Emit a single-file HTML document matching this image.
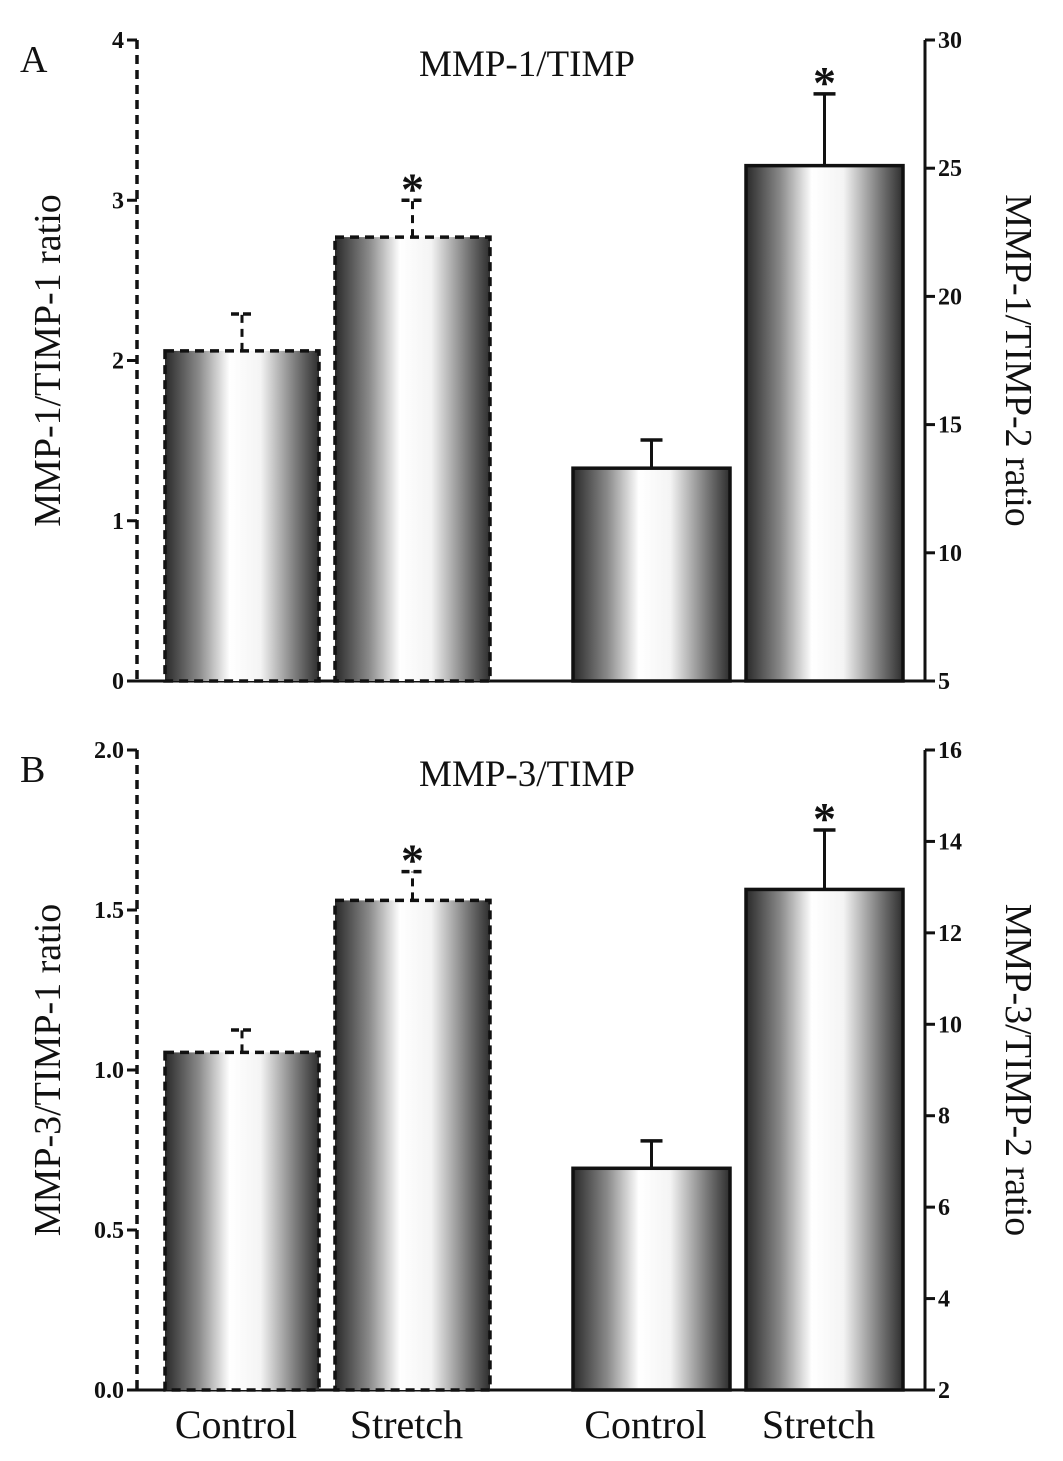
<!DOCTYPE html>
<html><head><meta charset="utf-8"><style>
html,body{margin:0;padding:0;background:#fff;width:1063px;height:1461px;overflow:hidden}
svg text{font-family:"Liberation Serif",serif;fill:#111}
</style></head><body>
<svg id="chart" width="1063" height="1461" viewBox="0 0 1063 1461" xmlns="http://www.w3.org/2000/svg">
<defs>
<linearGradient id="g" x1="0" x2="1" y1="0" y2="0">
<stop offset="0" stop-color="#2a2a2a"/><stop offset="0.22" stop-color="#8a8a8a"/><stop offset="0.42" stop-color="#ffffff"/><stop offset="0.62" stop-color="#f4f4f4"/><stop offset="0.85" stop-color="#7a7a7a"/><stop offset="1" stop-color="#2e2e2e"/>
</linearGradient>
</defs>
</svg>
<script>
const categories = ["Control","Stretch","Control","Stretch"];
const aLeftVals = [2.06, 2.77];
const aLeftErr = [0.23, 0.23];
const aRightVals = [13.3, 25.1];
const aRightErr = [1.1, 2.8];
const bLeftVals = [1.055, 1.53];
const bLeftErr = [0.07, 0.09];
const bRightVals = [6.85, 12.95];
const bRightErr = [0.6, 1.3];
const aLeftTicks = [0,1,2,3,4];
const aRightTicks = [5,10,15,20,25,30];
const bLeftTicks = ["0.0","0.5","1.0","1.5","2.0"];
const bRightTicks = [2,4,6,8,10,12,14,16];
const aSig = [false,true,false,true];
const bSig = [false,true,false,true];

const svg = document.getElementById('chart');
const NS = "http://www.w3.org/2000/svg";
function mk(tag, attrs, parent){const e=document.createElementNS(NS,tag);for(const k in attrs)e.setAttribute(k,attrs[k]);(parent||svg).appendChild(e);return e;}
const XL=137, XR=925;
const barX=[[165,319],[335,490],[573,730],[746,903]];

function panel(p){
  const g=mk('g',{});
  
  
  const yL=v=>p.y0-(v-p.lmin)/(p.lmax-p.lmin)*(p.y0-p.y1);
  const yR=v=>p.y0-(v-p.rmin)/(p.rmax-p.rmin)*(p.y0-p.y1);
  let a=mk('line',{x1:XL,y1:p.y1,x2:XL,y2:p.y0,stroke:'#111','stroke-width':3.5,'stroke-dasharray':'9 6'},g);
  
  a=mk('line',{x1:XR,y1:p.y1,x2:XR,y2:p.y0+1.5,stroke:'#111','stroke-width':3},g);
  
  a=mk('line',{x1:XL,y1:p.y0,x2:XR,y2:p.y0,stroke:'#111','stroke-width':3},g);
  
  p.lt.forEach(t=>{const y=yL(parseFloat(t));
    mk('line',{x1:XL-10,y1:y,x2:XL,y2:y,stroke:'#111','stroke-width':3},g);
    const tx=mk('text',{x:XL-13,y:y+8,'text-anchor':'end','font-size':24,'font-weight':'bold'},g);tx.textContent=t;
    });
  p.rt.forEach(t=>{const y=yR(t);
    mk('line',{x1:XR,y1:y,x2:XR+10,y2:y,stroke:'#111','stroke-width':3},g);
    const tx=mk('text',{x:XR+13,y:y+8,'font-size':24,'font-weight':'bold'},g);tx.textContent=t;
    });
  const all=[[p.lv[0],p.le[0],yL,true],[p.lv[1],p.le[1],yL,true],[p.rv[0],p.re[0],yR,false],[p.rv[1],p.re[1],yR,false]];
  all.forEach((d,i)=>{const [v,e,f,dash]=d;const x0=barX[i][0],x1=barX[i][1];const top=f(v);const et=f(v+e);const cx=(x0+x1)/2;
    const r=mk('rect',{x:x0,y:top,width:x1-x0,height:p.y0-top,fill:'url(#g)',stroke:'#111','stroke-width':3.5},g);
    if(dash)r.setAttribute('stroke-dasharray','9 6');
    
    const el=mk('line',{x1:cx,y1:top,x2:cx,y2:et,stroke:'#111','stroke-width':3},g);
    if(dash)el.setAttribute('stroke-dasharray','8 6');
    
    mk('line',{x1:cx-11,y1:et,x2:cx+11,y2:et,stroke:'#111','stroke-width':3.5,'stroke-dasharray':dash?'8 4':'none'},g);
    if(p.sig[i]){const s=mk('text',{x:cx,y:et+4,'text-anchor':'middle','font-size':46,'font-weight':'bold'},g);s.textContent='*';
      }
  });
  let t=mk('text',{x:p.titleX,y:p.y1+36,'text-anchor':'middle','font-size':37},g);t.textContent=p.title;
  
  t=mk('text',{x:20,y:p.y1+32,'font-size':38},g);t.textContent=p.id;
  
  const mid=(p.y0+p.y1)/2;
  t=mk('text',{x:0,y:0,'text-anchor':'middle','font-size':38,transform:`translate(60,${mid}) rotate(-90)`},g);t.textContent=p.ll;
  
  t=mk('text',{x:0,y:0,'text-anchor':'middle','font-size':38,transform:`translate(1006,${mid}) rotate(90)`},g);t.textContent=p.rl;
  
}
panel({id:'A',y0:681,y1:40,lmin:0,lmax:4,rmin:5,rmax:30,lv:aLeftVals,le:aLeftErr,rv:aRightVals,re:aRightErr,lt:aLeftTicks.map(String),rt:aRightTicks,sig:aSig,title:'MMP-1/TIMP',titleX:527,ll:'MMP-1/TIMP-1 ratio',rl:'MMP-1/TIMP-2 ratio'});
panel({id:'B',y0:1390,y1:750,lmin:0,lmax:2,rmin:2,rmax:16,lv:bLeftVals,le:bLeftErr,rv:bRightVals,re:bRightErr,lt:bLeftTicks,rt:bRightTicks,sig:bSig,title:'MMP-3/TIMP',titleX:527,ll:'MMP-3/TIMP-1 ratio',rl:'MMP-3/TIMP-2 ratio'});
categories.forEach((c,i)=>{const t=mk('text',{x:(barX[i][0]+barX[i][1])/2-6,y:1438,'text-anchor':'middle','font-size':40});t.textContent=c;
  
  });
</script>
</body></html>
